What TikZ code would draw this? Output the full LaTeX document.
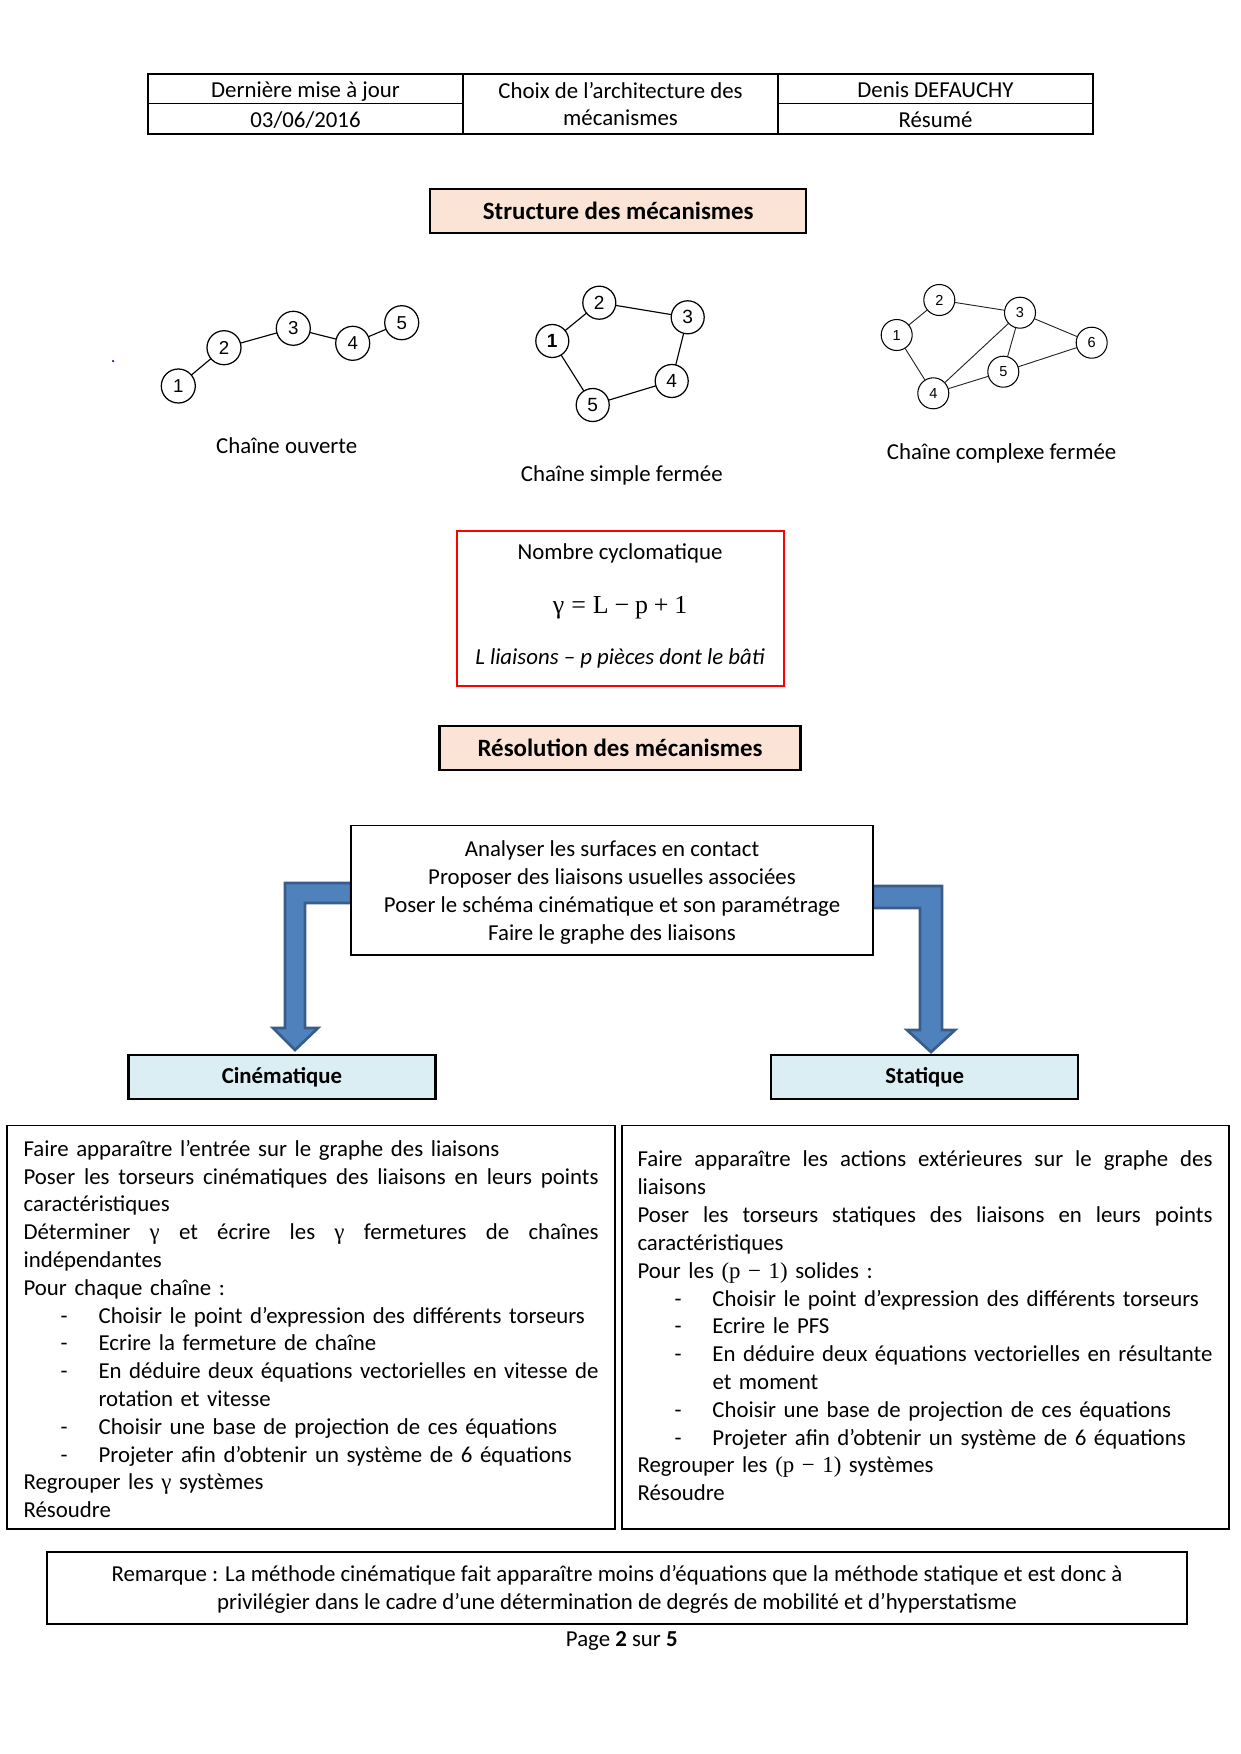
\documentclass[tikz,border=0pt]{standalone}
\usepackage{fontspec}
\setmainfont{Carlito}
\newfontfamily\serf{Liberation Serif}
\newfontfamily\arialf{Liberation Sans}
\usetikzlibrary{calc}
\newlength\pxu \setlength\pxu{0.0169355cm}
\newcommand\gam{{\serf γ}}
\newcommand\pmo{{\serf (p − 1)}}
\newcommand\itm[1]{\hspace*{37\pxu}\makebox[38\pxu][l]{-}#1}
\newcommand\jst[2]{\makebox[#1\pxu][s]{\spaceskip=\fontdimen2\font plus 1fil\relax #2}}
\definecolor{peach}{HTML}{FBE4D5}
\definecolor{lblue}{HTML}{DAEEF3}
\definecolor{abl}{HTML}{4F81BD}
\definecolor{abd}{HTML}{385D8A}
\pgfdeclarelayer{bg}\pgfsetlayers{bg,main}
\begin{document}
\begin{tikzpicture}[x=0.0169355cm, y=-0.0169331cm,
  every node/.style={inner sep=0pt, outer sep=0pt},
  body/.style={font=\fontsize{11}{13.4}\selectfont},
  cell/.style={draw, line width=0.6pt, body, minimum width=315*\pxu, align=center},
  rowcell/.style={cell, text height=10.2pt, text depth=2pt},
  titlebox/.style={draw, line width=1pt, fill=peach, font=\fontsize{12}{14}\selectfont\bfseries, minimum height=44*\pxu},
  catbox/.style={draw, line width=1pt, fill=lblue, font=\fontsize{11}{13.4}\selectfont\bfseries, minimum width=307*\pxu, minimum height=44.4*\pxu},
  frame/.style={draw, line width=0.8pt},
  gA/.style={circle, draw, line width=0.6pt, minimum size=34*\pxu, font=\arialf\fontsize{9}{10}\selectfont},
  gB/.style={circle, draw, line width=0.6pt, minimum size=33*\pxu, font=\arialf\fontsize{9.2}{10}\selectfont},
  gC/.style={circle, draw, line width=0.5pt, minimum size=31*\pxu, font=\arialf\fontsize{7}{8}\selectfont},
  gline/.style={line width=0.55pt},
  gthin/.style={line width=0.45pt, black!85},
  barrow/.style={fill=abl, draw=abd, line width=1.3pt, line join=miter}
]
\useasboundingbox (0,0) rectangle (1240,1754);

% header table
\node[rowcell, minimum height=29.5*\pxu] (h11) at (305.5,88.8) {Dernière mise à jour};
\node[rowcell, minimum height=30.5*\pxu] (h12) at (305.5,118.8) {03/06/2016};
\node[cell, minimum height=60*\pxu] (h2) at (620.5,104) {Choix de l’architecture des\\mécanismes};
\node[rowcell, minimum height=29.5*\pxu] (h31) at (935.5,88.8) {Denis DEFAUCHY};
\node[rowcell, minimum height=30.5*\pxu] (h32) at (935.5,118.8) {Résumé};

% title 1
\node[titlebox, minimum width=376*\pxu] (t1) at (618.3,211) {Structure des mécanismes};

% open chain
\fill[blue] (113,361) circle[radius=0.6pt];
\node[gA] (o1) at (178.3,386) {1};
\node[gA] (o2) at (224,347.7) {2};
\node[gA] (o3) at (293.3,328.3) {3};
\node[gA] (o4) at (352.7,343.3) {4};
\node[gA] (o5) at (401.7,322.7) {5};
\draw[gline] (o1) -- (o2);
\draw[gline] (o2) -- (o3);
\draw[gline] (o3) -- (o4);
\draw[gline] (o4) -- (o5);
\node[body] (lo) at (286.7,445.3) {Chaîne ouverte};

% simple closed chain
\node[gB, font=\arialf\bfseries\fontsize{9.2}{10}\selectfont] (s1) at (552.3,341) {1};
\node[gB] (s2) at (599.3,302.7) {2};
\node[gB] (s3) at (687.7,317.3) {3};
\node[gB] (s4) at (671.7,381) {4};
\node[gB] (s5) at (592.7,405) {5};
\draw[gline] (s1) -- (s2);
\draw[gline] (s2) -- (s3);
\draw[gline] (s3) -- (s4);
\draw[gline] (s4) -- (s5);
\draw[gline] (s5) -- (s1);
\node[body] (ls) at (621.8,475.6) {Chaîne simple fermée};

% complex closed chain
\node[gC] (c1) at (896.7,335) {1};
\node[gC] (c2) at (939.3,300) {2};
\node[gC] (c3) at (1020,312.7) {3};
\node[gC] (c4) at (933.3,393.3) {4};
\node[gC] (c5) at (1003.3,371.7) {5};
\node[gC] (c6) at (1091.7,342.7) {6};
\draw[gthin] (c1) -- (c2);
\draw[gthin] (c2) -- (c3);
\draw[gthin] (c3) -- (c6);
\draw[gthin] (c1) -- (c4);
\draw[gthin] (c4) -- (c3);
\draw[gthin] (c3) -- (c5);
\draw[gthin] (c4) -- (c5);
\draw[gthin] (c5) -- (c6);
\node[body] (lc) at (1001.6,453) {Chaîne complexe fermée};

% cyclomatic number box
\node[draw=red, line width=0.8pt, minimum width=327*\pxu, minimum height=155*\pxu] (cyc) at (620.5,608.5) {};
\node[body] (cyc1) at (620,553.3) {Nombre cyclomatique};
\node[font=\serf\fontsize{12.5}{15}\selectfont] (cyc2) at (620,608) {γ\hspace{3.4pt}=\hspace{3.4pt}L\hspace{2.8pt}−\hspace{2.8pt}p\hspace{2.8pt}+\hspace{2.8pt}1};
\node[body, font=\fontsize{11}{13.4}\selectfont\itshape] (cyc3) at (620,658) {L liaisons – p pièces dont le bâti};

% title 2
\node[titlebox, minimum width=361*\pxu] (t2) at (620,748.2) {Résolution des mécanismes};

% process box
\node[frame, fill=white, minimum width=522*\pxu, minimum height=129.5*\pxu] (proc) at (612,890.2) {};
\node[body, align=center] (proctxt) at (612,892.5) {Analyser les surfaces en contact\\Proposer des liaisons usuelles associées\\Poser le schéma cinématique et son paramétrage\\Faire le graphe des liaisons};

% categories
\node[catbox] (cine) at (282,1077.2) {Cinématique};
\node[catbox] (stat) at (924.7,1077.2) {Statique};

% block arrows
\begin{pgfonlayer}{bg}
\draw[barrow] (proc.west |- 0,883) -- (285,883) -- (285,1028) -- (273,1028) -- (295,1050) -- (318,1028) -- (305,1028) -- (305,903) -- (proc.west |- 0,903) -- cycle;
\draw[barrow] (proc.east |- 0,886) -- (942,886) -- (942,1030) -- (955,1030) -- (931,1052) -- (907,1030) -- (920,1030) -- (920,908) -- (proc.east |- 0,908) -- cycle;
\end{pgfonlayer}

% left big box
\node[frame, minimum width=608.3*\pxu, minimum height=403.5*\pxu] (lbox) at (310.9,1327.2) {};
\node[body, anchor=north west, text width=575*\pxu, align=left] (ltxt) at (23.6,1136.8) {\strut Faire apparaître l’entrée sur le graphe des liaisons\\
\jst{575}{Poser les torseurs cinématiques des liaisons en leurs points}\\
caractéristiques\\
\jst{575}{Déterminer \gam{} et écrire les \gam{} fermetures de chaînes}\\
indépendantes\\
Pour chaque chaîne :\\
\itm{Choisir le point d’expression des différents torseurs}\\
\itm{Ecrire la fermeture de chaîne}\\
\itm{\jst{500}{En déduire deux équations vectorielles en vitesse de}}\\
\hspace*{75\pxu}rotation et vitesse\\
\itm{Choisir une base de projection de ces équations}\\
\itm{Projeter afin d’obtenir un système de 6 équations}\\
Regrouper les \gam{} systèmes\\
Résoudre};

% right big box
\node[frame, minimum width=607*\pxu, minimum height=403.5*\pxu] (rbox) at (925.4,1327.2) {};
\node[body, anchor=north west, text width=575*\pxu, align=left] (rtxt) at (637.5,1147.5) {\strut\jst{575}{Faire apparaître les actions extérieures sur le graphe des}\\
liaisons\\
\jst{575}{Poser les torseurs statiques des liaisons en leurs points}\\
caractéristiques\\
Pour les \pmo{} solides :\\
\itm{Choisir le point d’expression des différents torseurs}\\
\itm{Ecrire le PFS}\\
\itm{\jst{500}{En déduire deux équations vectorielles en résultante}}\\
\hspace*{75\pxu}et moment\\
\itm{Choisir une base de projection de ces équations}\\
\itm{Projeter afin d’obtenir un système de 6 équations}\\
Regrouper les \pmo{} systèmes\\
Résoudre};

% remark
\node[frame, minimum width=1140.6*\pxu, minimum height=72*\pxu] (rem) at (617,1588) {};
\node[body, align=center, font=\fontsize{11}{13.4}\selectfont] (remtxt) at (617,1589) {Remarque : La méthode cinématique fait apparaître moins d’équations que la méthode statique et est donc à\\privilégier dans le cadre d’une détermination de degrés de mobilité et d’hyperstatisme};

\node[body] (pg) at (621.8,1641.4) {Page \textbf{2} sur \textbf{5}};
\end{tikzpicture}
\end{document}
